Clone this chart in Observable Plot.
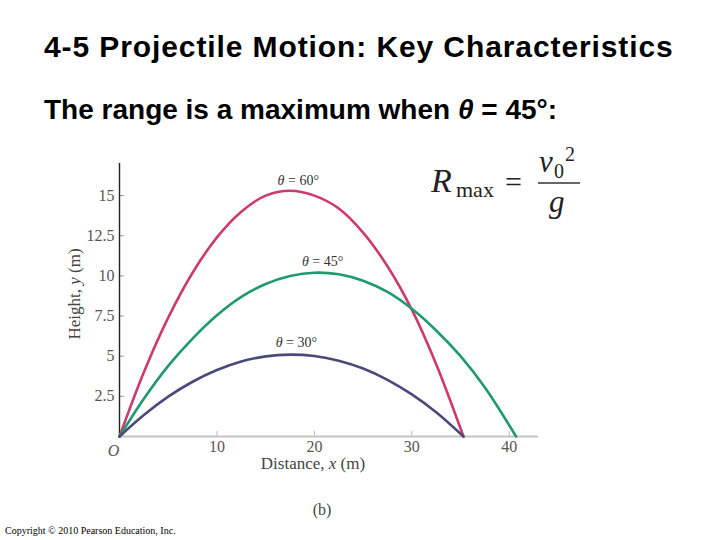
<!DOCTYPE html>
<html>
<head>
<meta charset="utf-8">
<script src="https://cdn.jsdelivr.net/npm/d3@7"></script>
<script src="https://cdn.jsdelivr.net/npm/@observablehq/plot@0.6"></script>
<style>
  html, body { margin: 0; padding: 0; background: #fff; }
  #page { position: relative; width: 720px; height: 540px; overflow: hidden; background: #fff; }
  .title { position: absolute; left: 44px; top: 32px; font: bold 30px "Liberation Sans", Arial, sans-serif; line-height: 30px; letter-spacing: 0.9px; color: #000; white-space: nowrap; }
  .subtitle { position: absolute; left: 44px; top: 96px; font: bold 28px "Liberation Sans", Arial, sans-serif; line-height: 28px; color: #000; white-space: nowrap; }
  #chart { position: absolute; left: 0; top: 130px; }
  .copy { position: absolute; left: 5px; top: 525px; font: 10px "Liberation Serif", serif; color: #000; white-space: nowrap; }
</style>
</head>
<body>
<div id="page">
  <div class="title">4-5 Projectile Motion: Key Characteristics</div>
  <div class="subtitle">The range is a maximum when <i>θ</i> = 45°:</div>
  <div id="chart"></div>
  <div class="copy">Copyright © 2010 Pearson Education, Inc.</div>
</div>
<script>
// Launch angles (degrees) and their colours
const angles = ["60", "45", "30"];
const angleColors = ["#cc3a6e", "#1f9a6e", "#4a4a7a"];

// Trajectory θ = 60°
const x60 = [0, 2.5, 5, 7.5, 10, 12.5, 15, 17.5, 20, 22.5, 25, 27.5, 30, 32.5, 35.3];
const y60 = [0, 4.0, 7.4, 10.2, 12.4, 14.0, 15.0, 15.3, 15.0, 14.2, 12.7, 10.6, 7.9, 4.5, 0];
// Trajectory θ = 45°
const x45 = [0, 2.5, 5, 7.5, 10, 12.5, 15, 17.5, 20, 22.5, 25, 27.5, 30, 32.5, 35, 37.5, 40.7];
const y45 = [0, 2.35, 4.4, 6.1, 7.55, 8.7, 9.5, 10.0, 10.2, 10.1, 9.7, 9.0, 7.95, 6.6, 5.0, 3.05, 0];
// Trajectory θ = 30°
const x30 = [0, 2.5, 5, 7.5, 10, 12.5, 15, 17.5, 20, 22.5, 25, 27.5, 30, 32.5, 35.3];
const y30 = [0, 1.34, 2.48, 3.41, 4.14, 4.67, 4.99, 5.1, 5.01, 4.72, 4.23, 3.53, 2.62, 1.51, 0];

// Axis ticks
const xTicks = [10, 20, 30, 40];
const yTicks = [2.5, 5, 7.5, 10, 12.5, 15];
const yTickLabels = ["2.5", "5", "7.5", "10", "12.5", "15"];

// Curve label anchors (data coordinates)
const labelAngles = ["60", "45", "30"];
const labelX = [18.4, 20.9, 18.2];
const labelY = [15.8, 10.8, 5.7];

const traj = [
  ...x60.map((x, i) => ({angle: "60", x, y: y60[i]})),
  ...x45.map((x, i) => ({angle: "45", x, y: y45[i]})),
  ...x30.map((x, i) => ({angle: "30", x, y: y30[i]}))
];

const W = 720, H = 390, ML = 119, MR = 182, MT = 33, MB = 84;
const frameW = W - ML - MR, frameH = H - MT - MB;

const chart = Plot.plot({
  width: W, height: H,
  marginLeft: ML, marginRight: MR, marginTop: MT, marginBottom: MB,
  style: {background: "transparent", fontFamily: "'Liberation Serif', serif", overflow: "visible"},
  x: {domain: [0, 43]},
  y: {domain: [0, 17]},
  color: {domain: angles, range: angleColors},
  marks: [
    Plot.ruleY(yTicks, {stroke: "#999", strokeWidth: 1, insetRight: frameW - 5}),
    Plot.ruleX(xTicks, {stroke: "#bbb", strokeWidth: 1, insetTop: frameH - 5}),
    Plot.ruleY([0], {stroke: "#c4c4c4", strokeWidth: 2}),
    Plot.ruleX([0], {stroke: "#222", strokeWidth: 1.4}),
    Plot.axisX(xTicks, {tickSize: 0, tickPadding: 4, fontSize: 16, fill: "#555", label: null}),
    Plot.axisY(yTicks, {tickSize: 0, tickPadding: 5, fontSize: 16, fill: "#555", label: null,
      tickFormat: d => yTickLabels[yTicks.indexOf(d)]}),
    Plot.text([0], {x: d => d, y: 0, text: () => "O", fontStyle: "italic", fontSize: 16, fill: "#555", dy: 14, dx: -6}),
    Plot.line(traj, {x: "x", y: "y", z: "angle", stroke: "angle", curve: "catmull-rom", strokeWidth: 2.6})
  ]
});

document.getElementById("chart").appendChild(chart);

const svg = d3.select(chart);
const sx = chart.scale("x"), sy = chart.scale("y");
const serif = "'Liberation Serif', serif";

// curve labels
labelAngles.forEach((a, i) => {
  const t = svg.append("text")
    .attr("x", sx.apply(labelX[i])).attr("y", sy.apply(labelY[i]))
    .attr("text-anchor", "middle").attr("dominant-baseline", "middle")
    .attr("font-family", serif).attr("font-size", 14).attr("fill", "#333");
  t.append("tspan").attr("font-style", "italic").text("θ");
  t.append("tspan").text(" = " + a + "°");
});

// axis titles
const xt = svg.append("text").attr("x", 313).attr("y", 335)
  .attr("text-anchor", "middle").attr("dominant-baseline", "middle")
  .attr("font-family", serif).attr("font-size", 17).attr("fill", "#444");
xt.append("tspan").text("Distance, ");
xt.append("tspan").attr("font-style", "italic").text("x");
xt.append("tspan").text(" (m)");

const yt = svg.append("text").attr("transform", "translate(76,164) rotate(-90)")
  .attr("text-anchor", "middle").attr("dominant-baseline", "middle")
  .attr("font-family", serif).attr("font-size", 17).attr("fill", "#444");
yt.append("tspan").text("Height, ");
yt.append("tspan").attr("font-style", "italic").text("y");
yt.append("tspan").text(" (m)");

svg.append("text").attr("x", 322).attr("y", 381)
  .attr("text-anchor", "middle").attr("dominant-baseline", "middle")
  .attr("font-family", serif).attr("font-size", 16).attr("fill", "#444").text("(b)");

// formula R_max = v0^2 / g
const f = svg.append("g").attr("font-family", serif).attr("fill", "#222").attr("text-anchor", "start");
f.append("text").attr("x", 431).attr("y", 62).attr("font-size", 34).attr("font-style", "italic").text("R");
f.append("text").attr("x", 456).attr("y", 67).attr("font-size", 22).text("max");
f.append("text").attr("x", 505).attr("y", 62).attr("font-size", 30).text("=");
f.append("line").attr("x1", 538).attr("x2", 580).attr("y1", 53).attr("y2", 53).attr("stroke", "#333").attr("stroke-width", 1.5);
f.append("text").attr("x", 539).attr("y", 42).attr("font-size", 31).attr("font-style", "italic").text("v");
f.append("text").attr("x", 554).attr("y", 48).attr("font-size", 20).text("0");
f.append("text").attr("x", 565).attr("y", 31).attr("font-size", 20).text("2");
f.append("text").attr("x", 549).attr("y", 82).attr("font-size", 31).attr("font-style", "italic").text("g");
</script>
</body>
</html>
